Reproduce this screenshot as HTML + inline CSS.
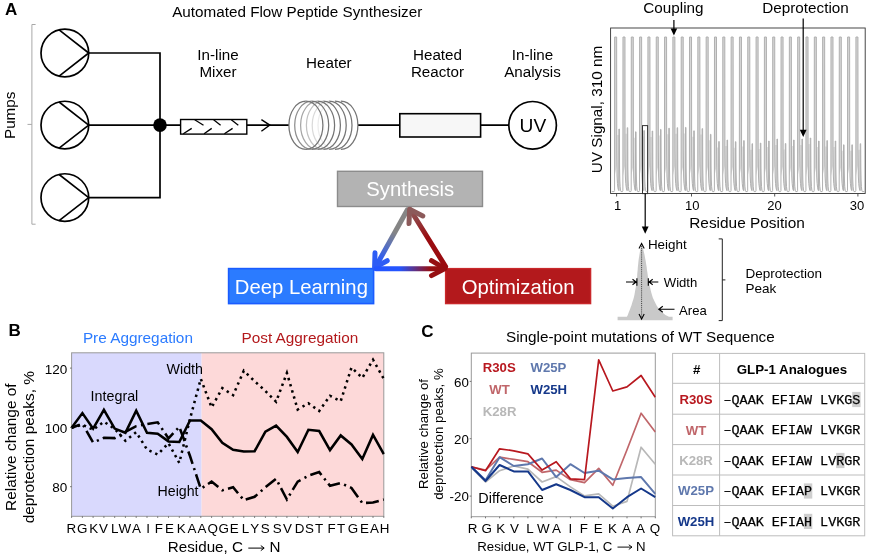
<!DOCTYPE html>
<html><head><meta charset="utf-8"><title>Figure</title>
<style>
html,body{margin:0;padding:0;background:#fff;}
body{width:870px;height:558px;overflow:hidden;font-family:"Liberation Sans",sans-serif;}
svg{display:block;will-change:transform;}
svg text{font-family:"Liberation Sans",sans-serif;fill:#000;}
svg text.m{font-family:"Liberation Mono",monospace;}
</style></head><body>
<svg width="870" height="558" viewBox="0 0 870 558">
<defs>
<linearGradient id="gA" gradientUnits="userSpaceOnUse" x1="408" y1="208" x2="374" y2="268"><stop offset="0.4" stop-color="#858585"/><stop offset="0.85" stop-color="#2d5cf5"/></linearGradient>
<linearGradient id="gB" gradientUnits="userSpaceOnUse" x1="374" y1="268" x2="446" y2="268"><stop offset="0.35" stop-color="#2455ff"/><stop offset="0.78" stop-color="#960f12"/></linearGradient>
<linearGradient id="gC" gradientUnits="userSpaceOnUse" x1="446" y1="268" x2="409" y2="208"><stop offset="0.5" stop-color="#9a0c10"/><stop offset="1" stop-color="#8c6262"/></linearGradient>
</defs>
<rect x="0" y="0" width="870" height="558" fill="#fff"/>

<text x="5" y="15.2" font-size="17" font-weight="bold">A</text>
<text x="297.2" y="16.8" font-size="15.25" text-anchor="middle">Automated Flow Peptide Synthesizer</text>
<path d="M35.6 24.5 H31.9 V224.2 H35.6 M31.9 124.4 H27.5" fill="none" stroke="#a8a8a8" stroke-width="1"/>
<text transform="translate(14.9,115.3) rotate(-90)" font-size="15.25" text-anchor="middle">Pumps</text>
<circle cx="64.85" cy="53.0" r="23.85" fill="#fff" stroke="#000" stroke-width="1.7"/>
<path d="M59.1 29.9 L88.7 53.0 L59.1 76.1" fill="none" stroke="#000" stroke-width="1.6" stroke-linejoin="round"/>
<circle cx="64.85" cy="125.1" r="23.85" fill="#fff" stroke="#000" stroke-width="1.7"/>
<path d="M59.1 102.0 L88.7 125.1 L59.1 148.2" fill="none" stroke="#000" stroke-width="1.6" stroke-linejoin="round"/>
<circle cx="64.85" cy="197.6" r="23.85" fill="#fff" stroke="#000" stroke-width="1.7"/>
<path d="M59.1 174.5 L88.7 197.6 L59.1 220.7" fill="none" stroke="#000" stroke-width="1.6" stroke-linejoin="round"/>
<path d="M88.7 53 H160 V197.6 H88.7 M88.7 125.1 H180.5 M246.8 125.1 H289 M358 125.1 H400 M480.5 125.1 H508.7" fill="none" stroke="#000" stroke-width="1.7"/>
<circle cx="160" cy="125.1" r="6.8" fill="#000"/>
<rect x="180.6" y="119.5" width="66.2" height="14.6" fill="#fff" stroke="#000" stroke-width="1.4"/>
<path d="M183.3 133.8 L191.7 128.4 M204.1 133.8 L211.7 128.4 M224.4 133.8 L232.6 128.4 M194.7 119.8 L203.5 125.2 M213.6 119.8 L220.6 125.2 M231.3 119.8 L238.3 125.2" fill="none" stroke="#000" stroke-width="1.3"/>
<path d="M261.4 119.6 L269.8 125.1 L261.4 131.2" fill="none" stroke="#000" stroke-width="1.4"/>
<text x="218" y="59.5" font-size="15.2" text-anchor="middle">In-line</text>
<text x="218" y="76.8" font-size="15.2" text-anchor="middle">Mixer</text>
<text x="328.9" y="68.4" font-size="15.2" text-anchor="middle">Heater</text>
<text x="437.5" y="59.7" font-size="15.2" text-anchor="middle">Heated</text>
<text x="437.5" y="77" font-size="15.2" text-anchor="middle">Reactor</text>
<text x="532.5" y="59.7" font-size="15.2" text-anchor="middle">In-line</text>
<text x="532.5" y="77" font-size="15.2" text-anchor="middle">Analysis</text>
<path d="M305.9 101.2 A17 24.1 0 0 0 305.9 149.4" fill="none" stroke="#747474" stroke-width="1.25"/>
<path d="M311.7 101.2 A17 24.1 0 0 0 311.7 149.4" fill="none" stroke="#8e8e8e" stroke-width="1.25"/>
<path d="M317.6 101.2 A17 24.1 0 0 0 317.6 149.4" fill="none" stroke="#a6a6a6" stroke-width="1.25"/>
<path d="M323.4 101.2 A17 24.1 0 0 0 323.4 149.4" fill="none" stroke="#c2c2c2" stroke-width="1.25"/>
<path d="M329.2 101.2 A17 24.1 0 0 0 329.2 149.4" fill="none" stroke="#dadada" stroke-width="1.25"/>
<path d="M335.0 101.2 A17 24.1 0 0 0 335.0 149.4" fill="none" stroke="#ececec" stroke-width="1.25"/>
<path d="M340.9 101.2 A17 24.1 0 0 0 340.9 149.4" fill="none" stroke="#f7f7f7" stroke-width="1.25"/>
<path d="M305.9 101.2 A17 24.1 0 0 1 305.9 149.4" fill="none" stroke="#747474" stroke-width="1.25"/>
<path d="M311.7 101.2 A17 24.1 0 0 1 311.7 149.4" fill="none" stroke="#747474" stroke-width="1.25"/>
<path d="M317.6 101.2 A17 24.1 0 0 1 317.6 149.4" fill="none" stroke="#747474" stroke-width="1.25"/>
<path d="M323.4 101.2 A17 24.1 0 0 1 323.4 149.4" fill="none" stroke="#747474" stroke-width="1.25"/>
<path d="M329.2 101.2 A17 24.1 0 0 1 329.2 149.4" fill="none" stroke="#747474" stroke-width="1.25"/>
<path d="M335.0 101.2 A17 24.1 0 0 1 335.0 149.4" fill="none" stroke="#747474" stroke-width="1.25"/>
<path d="M340.9 101.2 A17 24.1 0 0 1 340.9 149.4" fill="none" stroke="#747474" stroke-width="1.25"/>
<rect x="399.8" y="113.7" width="80.8" height="23.3" fill="#f7f7f7" stroke="#000" stroke-width="1.6"/>
<circle cx="532.6" cy="125.3" r="23.8" fill="#fff" stroke="#000" stroke-width="1.7"/>
<text x="532.9" y="132.3" font-size="19.2" text-anchor="middle">UV</text>
<rect x="337.5" y="171.3" width="145" height="35.2" fill="#b3b3b3" stroke="#8c8c8c" stroke-width="1.4"/>
<text x="410.3" y="195.7" font-size="20.3" text-anchor="middle" style="fill:#fff">Synthesis</text>
<rect x="228.6" y="268.6" width="145" height="35" fill="#2b7bff" stroke="#1a5cff" stroke-width="1.6"/>
<text x="301.4" y="293.5" font-size="20.3" text-anchor="middle" style="fill:#fff">Deep Learning</text>
<rect x="445.6" y="268.6" width="145" height="35" fill="#b3191c" stroke="#c9282b" stroke-width="1.4"/>
<text x="518.1" y="293.5" font-size="20.3" text-anchor="middle" style="fill:#fff">Optimization</text>
<g fill="none" stroke-width="5" stroke-linecap="round" stroke-linejoin="round">
<path d="M407.4 209.8 L375.8 266.5" stroke="url(#gA)"/>
<path d="M375 252.7 L374.6 267.6 L387.2 260.7" stroke="#2d5cf5"/>
<path d="M376 268.8 L443 268.8" stroke="url(#gB)"/>
<path d="M431.5 260.7 L445 268.6 L431.5 275.6" stroke="#960f12"/>
<path d="M445.6 266.6 L410.5 210" stroke="url(#gC)"/>
<path d="M409 223.5 L409.6 209.3 L422.8 216" stroke="#8c5a5a"/>
</g>
<rect x="610.6" y="28" width="254.60000000000002" height="165.5" fill="#fff" stroke="#333" stroke-width="0.9"/>
<path d="M614.65 37.0 H616.65 V166 L614.65 176 Z M622.97 37.0 H624.97 V166 L622.97 176 Z M631.29 37.0 H633.29 V166 L631.29 176 Z M639.61 37.0 H641.61 V166 L639.61 176 Z M647.93 37.0 H649.93 V166 L647.93 176 Z M656.25 37.0 H658.25 V166 L656.25 176 Z M664.57 37.0 H666.57 V166 L664.57 176 Z M672.89 37.0 H674.89 V166 L672.89 176 Z M681.21 37.0 H683.21 V166 L681.21 176 Z M689.53 37.0 H691.53 V166 L689.53 176 Z M697.85 37.0 H699.85 V166 L697.85 176 Z M706.17 37.0 H708.17 V166 L706.17 176 Z M714.49 37.0 H716.49 V166 L714.49 176 Z M722.81 37.0 H724.81 V166 L722.81 176 Z M731.13 37.0 H733.13 V166 L731.13 176 Z M739.45 37.0 H741.45 V166 L739.45 176 Z M747.77 37.0 H749.77 V166 L747.77 176 Z M756.09 37.0 H758.09 V166 L756.09 176 Z M764.41 37.0 H766.41 V166 L764.41 176 Z M772.73 37.0 H774.73 V166 L772.73 176 Z M781.05 37.0 H783.05 V166 L781.05 176 Z M789.37 37.0 H791.37 V166 L789.37 176 Z M797.69 37.0 H799.69 V166 L797.69 176 Z M806.01 37.0 H808.01 V166 L806.01 176 Z M814.33 37.0 H816.33 V166 L814.33 176 Z M822.65 37.0 H824.65 V166 L822.65 176 Z M830.97 37.0 H832.97 V166 L830.97 176 Z M839.29 37.0 H841.29 V166 L839.29 176 Z M847.61 37.0 H849.61 V166 L847.61 176 Z M855.93 37.0 H857.93 V166 L855.93 176 Z " fill="#d6d6d6"/>
<path d="M616.85 135.0 L619.15 135.0 L619.75 180 L620.75 190.5 L618.05 190.5 L616.95 180 Z M625.17 133.7 L627.47 133.7 L628.07 180 L629.07 190.5 L626.37 190.5 L625.27 180 Z M633.49 137.8 L635.79 137.8 L636.39 180 L637.39 190.5 L634.69 190.5 L633.59 180 Z M641.81 136.6 L644.11 136.6 L644.71 180 L645.71 190.5 L643.01 190.5 L641.91 180 Z M650.13 137.0 L652.43 137.0 L653.03 180 L654.03 190.5 L651.33 190.5 L650.23 180 Z M658.45 135.4 L660.75 135.4 L661.35 180 L662.35 190.5 L659.65 190.5 L658.55 180 Z M666.77 134.2 L669.07 134.2 L669.67 180 L670.67 190.5 L667.97 190.5 L666.87 180 Z M675.09 133.7 L677.39 133.7 L677.99 180 L678.99 190.5 L676.29 190.5 L675.19 180 Z M683.41 133.4 L685.71 133.4 L686.31 180 L687.31 190.5 L684.61 190.5 L683.51 180 Z M691.73 136.8 L694.03 136.8 L694.63 180 L695.63 190.5 L692.93 190.5 L691.83 180 Z M700.05 134.6 L702.35 134.6 L702.95 180 L703.95 190.5 L701.25 190.5 L700.15 180 Z M708.37 140.3 L710.67 140.3 L711.27 180 L712.27 190.5 L709.57 190.5 L708.47 180 Z M716.69 147.5 L718.99 147.5 L719.59 180 L720.59 190.5 L717.89 190.5 L716.79 180 Z M725.01 146.0 L727.31 146.0 L727.91 180 L728.91 190.5 L726.21 190.5 L725.11 180 Z M733.33 147.7 L735.63 147.7 L736.23 180 L737.23 190.5 L734.53 190.5 L733.43 180 Z M741.65 146.6 L743.95 146.6 L744.55 180 L745.55 190.5 L742.85 190.5 L741.75 180 Z M749.97 149.7 L752.27 149.7 L752.87 180 L753.87 190.5 L751.17 190.5 L750.07 180 Z M758.29 149.1 L760.59 149.1 L761.19 180 L762.19 190.5 L759.49 190.5 L758.39 180 Z M766.61 147.0 L768.91 147.0 L769.51 180 L770.51 190.5 L767.81 190.5 L766.71 180 Z M774.93 145.0 L777.23 145.0 L777.83 180 L778.83 190.5 L776.13 190.5 L775.03 180 Z M783.25 149.5 L785.55 149.5 L786.15 180 L787.15 190.5 L784.45 190.5 L783.35 180 Z M791.57 146.0 L793.87 146.0 L794.47 180 L795.47 190.5 L792.77 190.5 L791.67 180 Z M799.89 145.0 L802.19 145.0 L802.79 180 L803.79 190.5 L801.09 190.5 L799.99 180 Z M808.21 144.0 L810.51 144.0 L811.11 180 L812.11 190.5 L809.41 190.5 L808.31 180 Z M816.53 147.0 L818.83 147.0 L819.43 180 L820.43 190.5 L817.73 190.5 L816.63 180 Z M824.85 146.6 L827.15 146.6 L827.75 180 L828.75 190.5 L826.05 190.5 L824.95 180 Z M833.17 147.0 L835.47 147.0 L836.07 180 L837.07 190.5 L834.37 190.5 L833.27 180 Z M841.49 150.8 L843.79 150.8 L844.39 180 L845.39 190.5 L842.69 190.5 L841.59 180 Z M849.81 150.8 L852.11 150.8 L852.71 180 L853.71 190.5 L851.01 190.5 L849.91 180 Z M858.13 149.7 L860.43 149.7 L861.03 180 L862.03 190.5 L859.33 190.5 L858.23 180 Z " fill="#e2e2e2"/>
<path d="M611.80 191.6 L614.15 191.6 L614.55 190.6 L614.65 37.0 L616.65 37.0 L616.75 150 L617.05 176 L617.45 183.5 L617.95 187.8 L618.45 189.9 L618.80 190.6 L618.90 129 L619.40 129 L619.55 168 L619.80 180 L620.10 186.5 L620.50 190.2 L621.05 191.6 L622.47 191.6 L622.87 190.6 L622.97 37.0 L624.97 37.0 L625.07 150 L625.37 176 L625.77 183.5 L626.27 187.8 L626.77 189.9 L627.12 190.6 L627.22 127.7 L627.72 127.7 L627.87 168 L628.12 180 L628.42 186.5 L628.82 190.2 L629.37 191.6 L630.79 191.6 L631.19 190.6 L631.29 37.0 L633.29 37.0 L633.39 150 L633.69 176 L634.09 183.5 L634.59 187.8 L635.09 189.9 L635.44 190.6 L635.54 131.8 L636.04 131.8 L636.19 168 L636.44 180 L636.74 186.5 L637.14 190.2 L637.69 191.6 L639.11 191.6 L639.51 190.6 L639.61 37.0 L641.61 37.0 L641.71 150 L642.01 176 L642.41 183.5 L642.91 187.8 L643.41 189.9 L643.76 190.6 L643.86 130.6 L644.36 130.6 L644.51 168 L644.76 180 L645.06 186.5 L645.46 190.2 L646.01 191.6 L647.43 191.6 L647.83 190.6 L647.93 37.0 L649.93 37.0 L650.03 150 L650.33 176 L650.73 183.5 L651.23 187.8 L651.73 189.9 L652.08 190.6 L652.18 131 L652.68 131 L652.83 168 L653.08 180 L653.38 186.5 L653.78 190.2 L654.33 191.6 L655.75 191.6 L656.15 190.6 L656.25 37.0 L658.25 37.0 L658.35 150 L658.65 176 L659.05 183.5 L659.55 187.8 L660.05 189.9 L660.40 190.6 L660.50 129.4 L661.00 129.4 L661.15 168 L661.40 180 L661.70 186.5 L662.10 190.2 L662.65 191.6 L664.07 191.6 L664.47 190.6 L664.57 37.0 L666.57 37.0 L666.67 150 L666.97 176 L667.37 183.5 L667.87 187.8 L668.37 189.9 L668.72 190.6 L668.82 128.2 L669.32 128.2 L669.47 168 L669.72 180 L670.02 186.5 L670.42 190.2 L670.97 191.6 L672.39 191.6 L672.79 190.6 L672.89 37.0 L674.89 37.0 L674.99 150 L675.29 176 L675.69 183.5 L676.19 187.8 L676.69 189.9 L677.04 190.6 L677.14 127.7 L677.64 127.7 L677.79 168 L678.04 180 L678.34 186.5 L678.74 190.2 L679.29 191.6 L680.71 191.6 L681.11 190.6 L681.21 37.0 L683.21 37.0 L683.31 150 L683.61 176 L684.01 183.5 L684.51 187.8 L685.01 189.9 L685.36 190.6 L685.46 127.4 L685.96 127.4 L686.11 168 L686.36 180 L686.66 186.5 L687.06 190.2 L687.61 191.6 L689.03 191.6 L689.43 190.6 L689.53 37.0 L691.53 37.0 L691.63 150 L691.93 176 L692.33 183.5 L692.83 187.8 L693.33 189.9 L693.68 190.6 L693.78 130.8 L694.28 130.8 L694.43 168 L694.68 180 L694.98 186.5 L695.38 190.2 L695.93 191.6 L697.35 191.6 L697.75 190.6 L697.85 37.0 L699.85 37.0 L699.95 150 L700.25 176 L700.65 183.5 L701.15 187.8 L701.65 189.9 L702.00 190.6 L702.10 128.6 L702.60 128.6 L702.75 168 L703.00 180 L703.30 186.5 L703.70 190.2 L704.25 191.6 L705.67 191.6 L706.07 190.6 L706.17 37.0 L708.17 37.0 L708.27 150 L708.57 176 L708.97 183.5 L709.47 187.8 L709.97 189.9 L710.32 190.6 L710.42 134.3 L710.92 134.3 L711.07 168 L711.32 180 L711.62 186.5 L712.02 190.2 L712.57 191.6 L713.99 191.6 L714.39 190.6 L714.49 37.0 L716.49 37.0 L716.59 150 L716.89 176 L717.29 183.5 L717.79 187.8 L718.29 189.9 L718.64 190.6 L718.74 141.5 L719.24 141.5 L719.39 168 L719.64 180 L719.94 186.5 L720.34 190.2 L720.89 191.6 L722.31 191.6 L722.71 190.6 L722.81 37.0 L724.81 37.0 L724.91 150 L725.21 176 L725.61 183.5 L726.11 187.8 L726.61 189.9 L726.96 190.6 L727.06 140 L727.56 140 L727.71 168 L727.96 180 L728.26 186.5 L728.66 190.2 L729.21 191.6 L730.63 191.6 L731.03 190.6 L731.13 37.0 L733.13 37.0 L733.23 150 L733.53 176 L733.93 183.5 L734.43 187.8 L734.93 189.9 L735.28 190.6 L735.38 141.7 L735.88 141.7 L736.03 168 L736.28 180 L736.58 186.5 L736.98 190.2 L737.53 191.6 L738.95 191.6 L739.35 190.6 L739.45 37.0 L741.45 37.0 L741.55 150 L741.85 176 L742.25 183.5 L742.75 187.8 L743.25 189.9 L743.60 190.6 L743.70 140.6 L744.20 140.6 L744.35 168 L744.60 180 L744.90 186.5 L745.30 190.2 L745.85 191.6 L747.27 191.6 L747.67 190.6 L747.77 37.0 L749.77 37.0 L749.87 150 L750.17 176 L750.57 183.5 L751.07 187.8 L751.57 189.9 L751.92 190.6 L752.02 143.7 L752.52 143.7 L752.67 168 L752.92 180 L753.22 186.5 L753.62 190.2 L754.17 191.6 L755.59 191.6 L755.99 190.6 L756.09 37.0 L758.09 37.0 L758.19 150 L758.49 176 L758.89 183.5 L759.39 187.8 L759.89 189.9 L760.24 190.6 L760.34 143.1 L760.84 143.1 L760.99 168 L761.24 180 L761.54 186.5 L761.94 190.2 L762.49 191.6 L763.91 191.6 L764.31 190.6 L764.41 37.0 L766.41 37.0 L766.51 150 L766.81 176 L767.21 183.5 L767.71 187.8 L768.21 189.9 L768.56 190.6 L768.66 141 L769.16 141 L769.31 168 L769.56 180 L769.86 186.5 L770.26 190.2 L770.81 191.6 L772.23 191.6 L772.63 190.6 L772.73 37.0 L774.73 37.0 L774.83 150 L775.13 176 L775.53 183.5 L776.03 187.8 L776.53 189.9 L776.88 190.6 L776.98 139 L777.48 139 L777.63 168 L777.88 180 L778.18 186.5 L778.58 190.2 L779.13 191.6 L780.55 191.6 L780.95 190.6 L781.05 37.0 L783.05 37.0 L783.15 150 L783.45 176 L783.85 183.5 L784.35 187.8 L784.85 189.9 L785.20 190.6 L785.30 143.5 L785.80 143.5 L785.95 168 L786.20 180 L786.50 186.5 L786.90 190.2 L787.45 191.6 L788.87 191.6 L789.27 190.6 L789.37 37.0 L791.37 37.0 L791.47 150 L791.77 176 L792.17 183.5 L792.67 187.8 L793.17 189.9 L793.52 190.6 L793.62 140 L794.12 140 L794.27 168 L794.52 180 L794.82 186.5 L795.22 190.2 L795.77 191.6 L797.19 191.6 L797.59 190.6 L797.69 37.0 L799.69 37.0 L799.79 150 L800.09 176 L800.49 183.5 L800.99 187.8 L801.49 189.9 L801.84 190.6 L801.94 139 L802.44 139 L802.59 168 L802.84 180 L803.14 186.5 L803.54 190.2 L804.09 191.6 L805.51 191.6 L805.91 190.6 L806.01 37.0 L808.01 37.0 L808.11 150 L808.41 176 L808.81 183.5 L809.31 187.8 L809.81 189.9 L810.16 190.6 L810.26 138 L810.76 138 L810.91 168 L811.16 180 L811.46 186.5 L811.86 190.2 L812.41 191.6 L813.83 191.6 L814.23 190.6 L814.33 37.0 L816.33 37.0 L816.43 150 L816.73 176 L817.13 183.5 L817.63 187.8 L818.13 189.9 L818.48 190.6 L818.58 141 L819.08 141 L819.23 168 L819.48 180 L819.78 186.5 L820.18 190.2 L820.73 191.6 L822.15 191.6 L822.55 190.6 L822.65 37.0 L824.65 37.0 L824.75 150 L825.05 176 L825.45 183.5 L825.95 187.8 L826.45 189.9 L826.80 190.6 L826.90 140.6 L827.40 140.6 L827.55 168 L827.80 180 L828.10 186.5 L828.50 190.2 L829.05 191.6 L830.47 191.6 L830.87 190.6 L830.97 37.0 L832.97 37.0 L833.07 150 L833.37 176 L833.77 183.5 L834.27 187.8 L834.77 189.9 L835.12 190.6 L835.22 141 L835.72 141 L835.87 168 L836.12 180 L836.42 186.5 L836.82 190.2 L837.37 191.6 L838.79 191.6 L839.19 190.6 L839.29 37.0 L841.29 37.0 L841.39 150 L841.69 176 L842.09 183.5 L842.59 187.8 L843.09 189.9 L843.44 190.6 L843.54 144.8 L844.04 144.8 L844.19 168 L844.44 180 L844.74 186.5 L845.14 190.2 L845.69 191.6 L847.11 191.6 L847.51 190.6 L847.61 37.0 L849.61 37.0 L849.71 150 L850.01 176 L850.41 183.5 L850.91 187.8 L851.41 189.9 L851.76 190.6 L851.86 144.8 L852.36 144.8 L852.51 168 L852.76 180 L853.06 186.5 L853.46 190.2 L854.01 191.6 L855.43 191.6 L855.83 190.6 L855.93 37.0 L857.93 37.0 L858.03 150 L858.33 176 L858.73 183.5 L859.23 187.8 L859.73 189.9 L860.08 190.6 L860.18 143.7 L860.68 143.7 L860.83 168 L861.08 180 L861.38 186.5 L861.78 190.2 L862.33 191.6 L864.40 191.6" fill="none" stroke="#b0b0b0" stroke-width="1.0" stroke-linejoin="round"/>
<path d="M616.6 193.5 V196.5 M691.5 193.5 V196.5 M774.7 193.5 V196.5 M857.9 193.5 V196.5 " stroke="#444" stroke-width="0.9" fill="none"/>
<text x="617.7" y="210.4" font-size="13" text-anchor="middle">1</text>
<text x="692.2" y="210.4" font-size="13" text-anchor="middle">10</text>
<text x="774.4" y="210.4" font-size="13" text-anchor="middle">20</text>
<text x="857" y="210.4" font-size="13" text-anchor="middle">30</text>
<text x="747" y="228.1" font-size="15.4" text-anchor="middle">Residue Position</text>
<text transform="translate(601.6,109.5) rotate(-90)" font-size="15.27" text-anchor="middle">UV Signal, 310 nm</text>
<text x="673.4" y="12.6" font-size="15.25" text-anchor="middle">Coupling</text>
<text x="805.5" y="12.6" font-size="15.25" text-anchor="middle">Deprotection</text>
<path d="M673.9 20 V30" stroke="#000" stroke-width="1.2"/><path d="M670.6 28.5 H677.2 L673.9 35.5 Z" fill="#000"/>
<path d="M803.2 18.5 V131" stroke="#000" stroke-width="1.2"/><path d="M799.8 129.8 H806.6 L803.2 137 Z" fill="#000"/>
<rect x="642.5" y="125.6" width="5.1" height="68" fill="none" stroke="#333" stroke-width="1"/>
<path d="M645.2 193.5 V228" stroke="#000" stroke-width="1.2"/><path d="M641.8 226.5 H648.6 L645.2 233.8 Z" fill="#000"/>
<path d="M617.6 320.2 L617.6 316.8 L626.9 316.8 L626.9 316.8 L627.8 314.9 L628.5 313.0 L629.3 311.1 L630.0 309.2 L630.7 307.3 L631.4 305.4 L632.0 303.5 L632.6 301.6 L633.2 299.7 L633.7 297.9 L634.2 296.0 L634.6 294.1 L634.9 292.2 L635.2 290.3 L635.6 288.4 L635.9 286.5 L636.2 284.6 L636.5 282.7 L636.7 280.8 L636.9 278.9 L637.1 277.0 L637.2 275.1 L637.3 273.2 L637.5 271.3 L637.7 269.4 L637.8 267.5 L638.0 265.6 L638.2 263.7 L638.4 261.8 L638.6 260.0 L638.9 258.1 L639.2 256.2 L639.5 254.3 L639.8 252.4 L640.1 250.5 L640.5 248.6 L640.8 246.7 L641.2 244.8 L641.6 242.9 L641.6 242.9 L642.1 244.8 L642.6 246.7 L643.0 248.6 L643.5 250.5 L644.0 252.4 L644.4 254.3 L644.8 256.2 L645.1 258.1 L645.5 260.0 L645.8 261.8 L646.1 263.7 L646.4 265.6 L646.7 267.5 L646.9 269.4 L647.2 271.3 L647.5 273.2 L647.7 275.1 L648.0 277.0 L648.3 278.9 L648.6 280.8 L648.9 282.7 L649.3 284.6 L649.8 286.5 L650.3 288.4 L650.7 290.3 L651.2 292.2 L651.7 294.1 L652.3 296.0 L652.9 297.9 L653.8 299.7 L654.6 301.6 L655.6 303.5 L656.6 305.4 L657.8 307.3 L659.2 309.2 L660.9 311.1 L663.0 313.0 L665.4 314.9 L669.0 316.8 L672.6 316.8 L672.6 320.2 Z" fill="#c9c9c9"/>
<path d="M641.6 246 V317" stroke="#222" stroke-width="0.8" stroke-dasharray="1 0.9" fill="none"/>
<path d="M639 248.5 L641.6 243.5 L644.2 248.5 M639 314 L641.6 319 L644.2 314" stroke="#000" stroke-width="1.1" fill="none"/>
<path d="M626 282 H636.2 M632.5 279.2 L636.2 282 L632.5 284.8 M636.9 278.3 V285.7 M648.3 278.3 V285.7 M649 282 H658.3 M652.7 279.2 L649 282 L652.7 284.8" stroke="#000" stroke-width="1.1" fill="none"/>
<path d="M674.5 309.2 H658.8 M662.8 306.2 L658.8 309.2 L662.8 312.2" stroke="#000" stroke-width="1.1" fill="none"/>
<text x="647.9" y="249.4" font-size="13.5" textLength="38.8" lengthAdjust="spacingAndGlyphs">Height</text>
<text x="663.8" y="286.8" font-size="13.5" textLength="33.5" lengthAdjust="spacingAndGlyphs">Width</text>
<text x="679.1" y="315.1" font-size="13.5" textLength="27.7" lengthAdjust="spacingAndGlyphs">Area</text>
<path d="M718.7 238.9 H722.3 V320.6 H718.7 M722.3 279.9 H725.4" stroke="#222" stroke-width="1" fill="none"/>
<text x="745.5" y="277.8" font-size="13.5">Deprotection</text>
<text x="745.5" y="292.5" font-size="13.5">Peak</text>
<text x="8.5" y="335.9" font-size="17" font-weight="bold">B</text>
<rect x="71.6" y="352.8" width="130.0" height="163.49999999999994" fill="#d9d9fd"/>
<rect x="201.6" y="352.8" width="182.2" height="163.49999999999994" fill="#fdd9d9"/>
<rect x="71.6" y="352.8" width="312.20000000000005" height="163.49999999999994" fill="none" stroke="#999" stroke-width="1"/>
<clipPath id="cb"><rect x="70.6" y="352.8" width="314.20000000000005" height="163.49999999999994"/></clipPath>
<g clip-path="url(#cb)">
<polyline points="71.6,427.7 82.4,424.7 93.1,429.8 103.9,421.7 114.7,428.9 125.4,440.8 136.2,432.2 147.0,449.5 157.7,454.5 168.5,443.2 179.3,462.9 190.0,418.8 200.8,378.8 211.6,407.4 222.3,388.1 233.1,395.2 243.8,370.8 254.6,381.2 265.4,391.0 276.1,401.8 286.9,372.9 297.7,409.5 308.4,403.3 319.2,411.0 330.0,395.8 340.7,401.2 351.5,367.5 362.3,377.9 373.0,359.8 383.8,378.8" fill="none" stroke="#000" stroke-width="2.55" stroke-linejoin="miter" stroke-dasharray="2.4 4"/>
<polyline points="71.6,427.7 82.4,423.8 93.1,442.6 103.9,437.8 114.7,438.1 125.4,431.9 136.2,426.2 147.0,424.1 157.7,422.3 168.5,438.4 179.3,426.8 190.0,456.0 200.8,488.8 211.6,481.6 222.3,490.3 233.1,487.3 243.8,500.1 254.6,496.8 265.4,487.3 276.1,478.7 286.9,499.5 297.7,481.6 308.4,475.7 319.2,472.1 330.0,485.8 340.7,483.1 351.5,487.9 362.3,503.1 373.0,502.5 383.8,499.5" fill="none" stroke="#000" stroke-width="2.55" stroke-linejoin="miter" stroke-dasharray="13 4.5 2.2 4.3" stroke-dashoffset="4.3"/>
<polyline points="71.6,427.7 82.4,413.1 93.1,428.6 103.9,409.8 114.7,428.6 125.4,432.8 136.2,410.7 147.0,432.8 157.7,433.7 168.5,441.4 179.3,442.0 190.0,420.5 200.8,420.5 211.6,429.2 222.3,442.9 233.1,449.8 243.8,451.5 254.6,451.2 265.4,431.6 276.1,425.6 286.9,436.9 297.7,452.1 308.4,429.8 319.2,431.0 330.0,450.1 340.7,435.4 351.5,444.4 362.3,459.0 373.0,434.9 383.8,454.2" fill="none" stroke="#000" stroke-width="2.55" stroke-linejoin="miter" />
</g>
<path d="M71.6 516.3 v1.6 M82.4 516.3 v1.6 M93.1 516.3 v1.6 M103.9 516.3 v1.6 M114.7 516.3 v1.6 M125.4 516.3 v1.6 M136.2 516.3 v1.6 M147.0 516.3 v1.6 M157.7 516.3 v1.6 M168.5 516.3 v1.6 M179.3 516.3 v1.6 M190.0 516.3 v1.6 M200.8 516.3 v1.6 M211.6 516.3 v1.6 M222.3 516.3 v1.6 M233.1 516.3 v1.6 M243.8 516.3 v1.6 M254.6 516.3 v1.6 M265.4 516.3 v1.6 M276.1 516.3 v1.6 M286.9 516.3 v1.6 M297.7 516.3 v1.6 M308.4 516.3 v1.6 M319.2 516.3 v1.6 M330.0 516.3 v1.6 M340.7 516.3 v1.6 M351.5 516.3 v1.6 M362.3 516.3 v1.6 M373.0 516.3 v1.6 M383.8 516.3 v1.6 M71.6 486.7 h-1.6 M71.6 427.4 h-1.6 M71.6 368.1 h-1.6 " stroke="#555" stroke-width="0.8" fill="none"/>
<text x="67.2" y="492.1" font-size="13.5" text-anchor="end">80</text>
<text x="67.2" y="432.8" font-size="13.5" text-anchor="end">100</text>
<text x="67.2" y="373.5" font-size="13.5" text-anchor="end">120</text>
<text x="71.3" y="532.6" font-size="13.4" text-anchor="middle">R</text>
<text x="82.1" y="532.6" font-size="13.4" text-anchor="middle">G</text>
<text x="93.6" y="532.6" font-size="13.4" text-anchor="middle">K</text>
<text x="103.4" y="532.6" font-size="13.4" text-anchor="middle">V</text>
<text x="114.7" y="532.6" font-size="13.4" text-anchor="middle">L</text>
<text x="124.9" y="532.6" font-size="13.4" text-anchor="middle">W</text>
<text x="136.4" y="532.6" font-size="13.4" text-anchor="middle">A</text>
<text x="148.1" y="532.6" font-size="13.4" text-anchor="middle">I</text>
<text x="158.9" y="532.6" font-size="13.4" text-anchor="middle">F</text>
<text x="169.4" y="532.6" font-size="13.4" text-anchor="middle">E</text>
<text x="181.3" y="532.6" font-size="13.4" text-anchor="middle">K</text>
<text x="191.9" y="532.6" font-size="13.4" text-anchor="middle">A</text>
<text x="202.0" y="532.6" font-size="13.4" text-anchor="middle">A</text>
<text x="212.6" y="532.6" font-size="13.4" text-anchor="middle">Q</text>
<text x="223.6" y="532.6" font-size="13.4" text-anchor="middle">G</text>
<text x="234.1" y="532.6" font-size="13.4" text-anchor="middle">E</text>
<text x="245.4" y="532.6" font-size="13.4" text-anchor="middle">L</text>
<text x="254.8" y="532.6" font-size="13.4" text-anchor="middle">Y</text>
<text x="265.1" y="532.6" font-size="13.4" text-anchor="middle">S</text>
<text x="277.2" y="532.6" font-size="13.4" text-anchor="middle">S</text>
<text x="287.4" y="532.6" font-size="13.4" text-anchor="middle">V</text>
<text x="299.5" y="532.6" font-size="13.4" text-anchor="middle">D</text>
<text x="309.5" y="532.6" font-size="13.4" text-anchor="middle">S</text>
<text x="319.1" y="532.6" font-size="13.4" text-anchor="middle">T</text>
<text x="331.6" y="532.6" font-size="13.4" text-anchor="middle">F</text>
<text x="341.1" y="532.6" font-size="13.4" text-anchor="middle">T</text>
<text x="352.9" y="532.6" font-size="13.4" text-anchor="middle">G</text>
<text x="364.4" y="532.6" font-size="13.4" text-anchor="middle">E</text>
<text x="374.4" y="532.6" font-size="13.4" text-anchor="middle">A</text>
<text x="384.7" y="532.6" font-size="13.4" text-anchor="middle">H</text>
<text x="167.8" y="551.7" font-size="15.2">Residue, C</text>
<text x="269.4" y="551.7" font-size="15.2">N</text>
<path d="M248.3 548.1 H264 M260.8 545.6 L264.2 548.1 L260.8 550.6" fill="none" stroke="#000" stroke-width="1"/>
<text x="137.9" y="342.7" font-size="15.35" text-anchor="middle" style="fill:#2b7bff">Pre Aggregation</text>
<text x="299.9" y="342.7" font-size="15.35" text-anchor="middle" style="fill:#b3191c">Post Aggregation</text>
<text transform="translate(15.9,447.2) rotate(-90)" font-size="15.4" text-anchor="middle">Relative change of</text>
<text transform="translate(34.4,447.2) rotate(-90)" font-size="15.4" text-anchor="middle">deprotection peaks, %</text>
<text x="90.6" y="400.5" font-size="14.8" textLength="47.7" lengthAdjust="spacingAndGlyphs">Integral</text>
<text x="166.5" y="373.9" font-size="14.8" textLength="36.5" lengthAdjust="spacingAndGlyphs">Width</text>
<text x="157.5" y="495.6" font-size="14.8" textLength="41" lengthAdjust="spacingAndGlyphs">Height</text>
<text x="421.2" y="337.4" font-size="17" font-weight="bold">C</text>
<text x="640.4" y="342.2" font-size="15.27" text-anchor="middle">Single-point mutations of WT Sequence</text>
<rect x="471.3" y="353.1" width="183.99999999999994" height="163.60000000000002" fill="#fff" stroke="#999" stroke-width="1"/>
<clipPath id="cc"><rect x="470.8" y="353.1" width="184.99999999999994" height="163.60000000000002"/></clipPath>
<g clip-path="url(#cc)">
<polyline points="471.3,467.4 485.5,482.0 499.6,470.7 513.8,466.0 527.9,469.1 542.1,482.0 556.2,476.6 570.4,486.9 584.5,495.9 598.7,493.9 612.8,506.2 627.0,501.4 641.1,447.2 655.3,464.2" fill="none" stroke="#b8b8b8" stroke-width="1.7" stroke-linejoin="round"/>
<polyline points="471.3,466.8 485.5,470.1 499.6,457.2 513.8,459.4 527.9,461.7 542.1,472.3 556.2,470.1 570.4,479.7 584.5,482.6 598.7,468.4 612.8,485.3 627.0,449.8 641.1,413.2 655.3,432.0" fill="none" stroke="#c0666a" stroke-width="1.7" stroke-linejoin="round"/>
<polyline points="471.3,466.8 485.5,480.3 499.6,457.2 513.8,466.0 527.9,464.2 542.1,458.5 556.2,477.1 570.4,464.2 584.5,473.0 598.7,470.7 612.8,479.4 627.0,478.1 641.1,477.1 655.3,493.9" fill="none" stroke="#5f78ad" stroke-width="2.0" stroke-linejoin="round"/>
<polyline points="471.3,466.8 485.5,470.7 499.6,448.8 513.8,450.8 527.9,453.9 542.1,470.1 556.2,461.7 570.4,478.9 584.5,479.7 598.7,359.9 612.8,391.0 627.0,386.9 641.1,375.5 655.3,397.2" fill="none" stroke="#b8181f" stroke-width="1.7" stroke-linejoin="round"/>
<polyline points="471.3,466.8 485.5,481.0 499.6,465.0 513.8,471.4 527.9,471.4 542.1,490.0 556.2,484.3 570.4,490.0 584.5,497.2 598.7,497.2 612.8,508.5 627.0,497.2 641.1,488.5 655.3,497.2" fill="none" stroke="#15388a" stroke-width="2.0" stroke-linejoin="round"/>
</g>
<path d="M471.3 516.7 v1.6 M485.5 516.7 v1.6 M499.6 516.7 v1.6 M513.8 516.7 v1.6 M527.9 516.7 v1.6 M542.1 516.7 v1.6 M556.2 516.7 v1.6 M570.4 516.7 v1.6 M584.5 516.7 v1.6 M598.7 516.7 v1.6 M612.8 516.7 v1.6 M627.0 516.7 v1.6 M641.1 516.7 v1.6 M655.3 516.7 v1.6 M471.3 496.1 h-1.6 M471.3 438.7 h-1.6 M471.3 381.4 h-1.6 " stroke="#555" stroke-width="0.8" fill="none"/>
<text x="468.8" y="501.2" font-size="13.3" text-anchor="end">-20</text>
<text x="468.8" y="443.8" font-size="13.3" text-anchor="end">20</text>
<text x="468.8" y="386.5" font-size="13.3" text-anchor="end">60</text>
<text x="472.6" y="532.6" font-size="13.4" text-anchor="middle">R</text>
<text x="486.6" y="532.6" font-size="13.4" text-anchor="middle">G</text>
<text x="500.6" y="532.6" font-size="13.4" text-anchor="middle">K</text>
<text x="514.5" y="532.6" font-size="13.4" text-anchor="middle">V</text>
<text x="530.0" y="532.6" font-size="13.4" text-anchor="middle">L</text>
<text x="543.3" y="532.6" font-size="13.4" text-anchor="middle">W</text>
<text x="556.5" y="532.6" font-size="13.4" text-anchor="middle">A</text>
<text x="570.3" y="532.6" font-size="13.4" text-anchor="middle">I</text>
<text x="583.8" y="532.6" font-size="13.4" text-anchor="middle">F</text>
<text x="598.1" y="532.6" font-size="13.4" text-anchor="middle">E</text>
<text x="612.5" y="532.6" font-size="13.4" text-anchor="middle">K</text>
<text x="626.5" y="532.6" font-size="13.4" text-anchor="middle">A</text>
<text x="640.5" y="532.6" font-size="13.4" text-anchor="middle">A</text>
<text x="655.0" y="532.6" font-size="13.4" text-anchor="middle">Q</text>
<text x="477.2" y="551" font-size="13.25">Residue, WT GLP-1, C</text>
<text x="636.1" y="551" font-size="13.25">N</text>
<path d="M617.5 547.1 H631.8 M628.8 544.8 L632 547.1 L628.8 549.4" fill="none" stroke="#000" stroke-width="0.95"/>
<text transform="translate(428,434) rotate(-90)" font-size="13.3" text-anchor="middle">Relative change of</text>
<text transform="translate(442.7,434) rotate(-90)" font-size="13.3" text-anchor="middle">deprotection peaks, %</text>
<text x="482.7" y="371.6" font-size="13.2" font-weight="bold" style="fill:#b8181f">R30S</text>
<text x="489.2" y="393.9" font-size="13.2" font-weight="bold" style="fill:#c0666a">WT</text>
<text x="482.7" y="415.9" font-size="13.2" font-weight="bold" style="fill:#b8b8b8">K28R</text>
<text x="530.5" y="371.6" font-size="13.2" font-weight="bold" style="fill:#5f78ad">W25P</text>
<text x="530.5" y="393.9" font-size="13.2" font-weight="bold" style="fill:#15388a">W25H</text>
<text x="478.3" y="503.1" font-size="15" textLength="65.4" lengthAdjust="spacingAndGlyphs">Difference</text>
<rect x="672.6" y="353.4" width="192.10000000000002" height="182.39999999999998" fill="#fff" stroke="#bdbdbd" stroke-width="1"/>
<path d="M672.6 383.3 H864.7 M672.6 414.2 H864.7 M672.6 444.6 H864.7 M672.6 475.0 H864.7 M672.6 505.5 H864.7 M719.6 353.4 V535.8" stroke="#bdbdbd" stroke-width="1" fill="none"/>
<text x="696.6" y="373.6" font-size="13.3" font-weight="bold" text-anchor="middle">#</text>
<text x="791.9" y="373.6" font-size="13.3" font-weight="bold" text-anchor="middle">GLP-1 Analogues</text>
<rect x="852.2" y="391.9" width="8.4" height="15.2" fill="#cfcfcf"/>
<text x="696" y="403.9" font-size="13.2" font-weight="bold" text-anchor="middle" style="fill:#b8181f">R30S</text>
<text class="m" stroke="#000" stroke-width="0.25" x="723.5" y="403.8" font-size="13.42" textLength="136.85" lengthAdjust="spacing" xml:space="preserve">–QAAK EFIAW LVKGS</text>
<text x="696" y="434.5" font-size="13.2" font-weight="bold" text-anchor="middle" style="fill:#c0666a">WT</text>
<text class="m" stroke="#000" stroke-width="0.25" x="723.5" y="434.4" font-size="13.42" textLength="136.85" lengthAdjust="spacing" xml:space="preserve">–QAAK EFIAW LVKGR</text>
<rect x="836.1" y="452.9" width="8.4" height="15.2" fill="#cfcfcf"/>
<text x="696" y="464.9" font-size="13.2" font-weight="bold" text-anchor="middle" style="fill:#b8b8b8">K28R</text>
<text class="m" stroke="#000" stroke-width="0.25" x="723.5" y="464.8" font-size="13.42" textLength="136.85" lengthAdjust="spacing" xml:space="preserve">–QAAK EFIAW LVRGR</text>
<rect x="803.9" y="483.4" width="8.4" height="15.2" fill="#cfcfcf"/>
<text x="696" y="495.4" font-size="13.2" font-weight="bold" text-anchor="middle" style="fill:#5f78ad">W25P</text>
<text class="m" stroke="#000" stroke-width="0.25" x="723.5" y="495.2" font-size="13.42" textLength="136.85" lengthAdjust="spacing" xml:space="preserve">–QAAK EFIAP LVKGR</text>
<rect x="803.9" y="513.8" width="8.4" height="15.2" fill="#cfcfcf"/>
<text x="696" y="525.8" font-size="13.2" font-weight="bold" text-anchor="middle" style="fill:#15388a">W25H</text>
<text class="m" stroke="#000" stroke-width="0.25" x="723.5" y="525.6" font-size="13.42" textLength="136.85" lengthAdjust="spacing" xml:space="preserve">–QAAK EFIAH LVKGR</text>
</svg></body></html>
